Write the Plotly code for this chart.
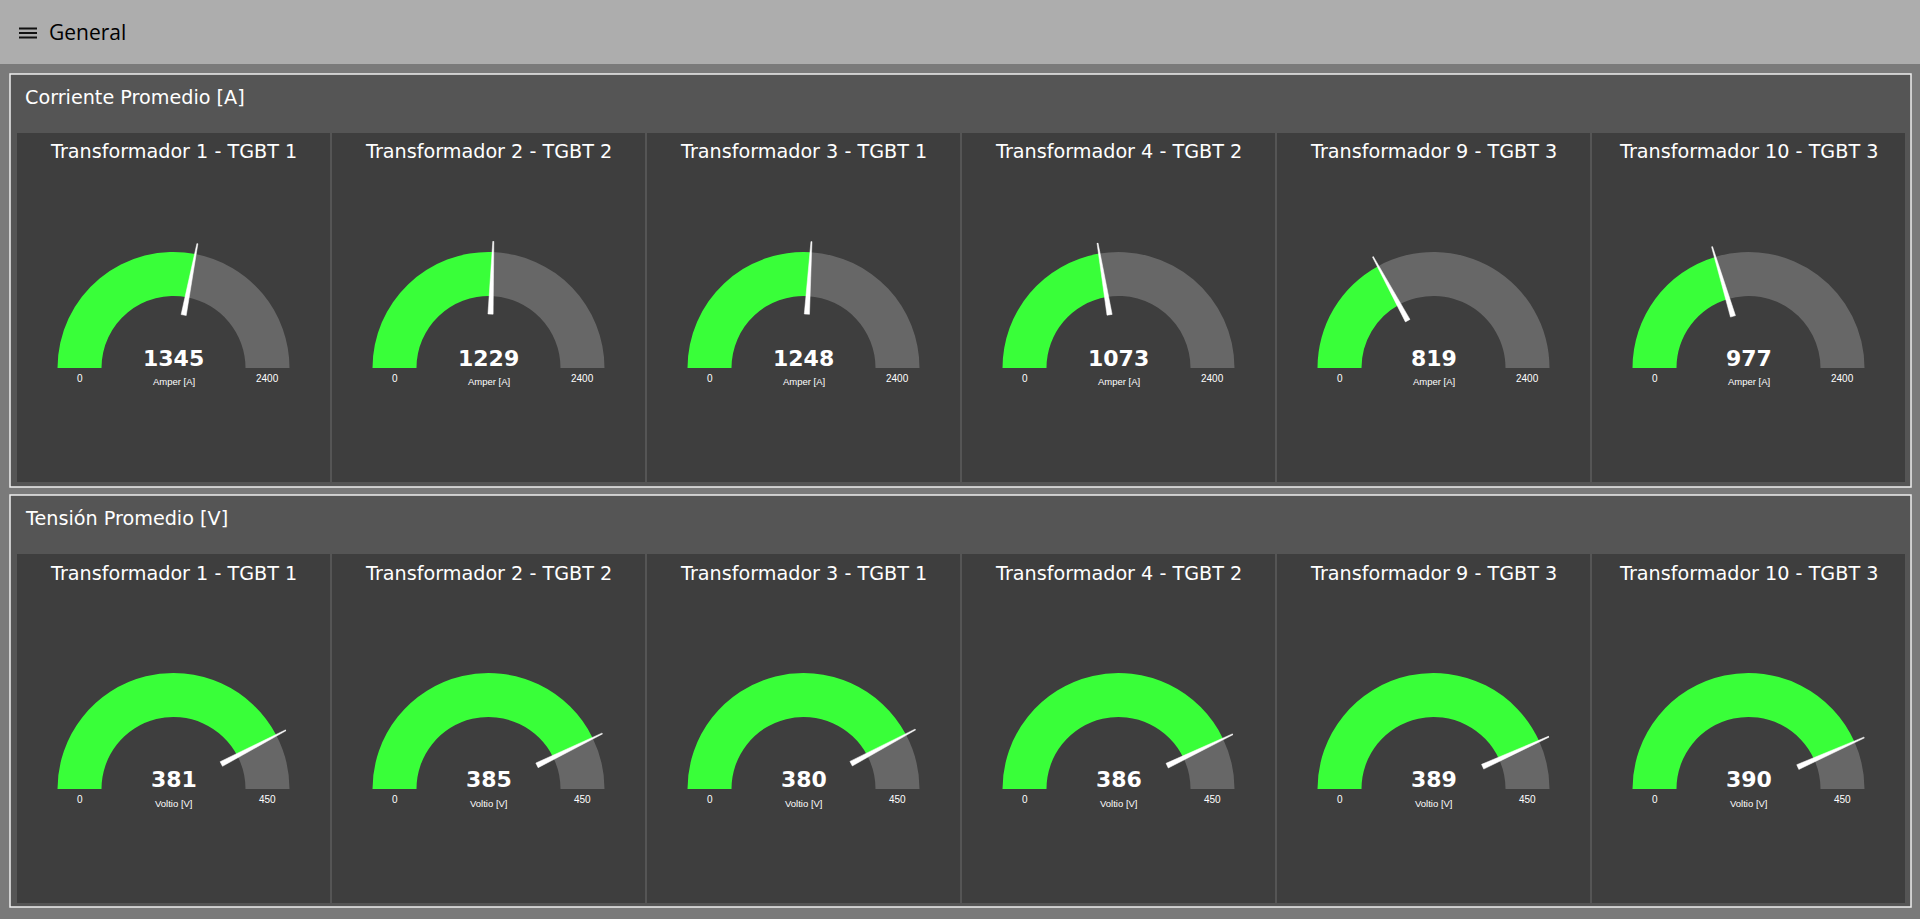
import plotly.graph_objects as go

# ---------------- data ----------------
group_titles = ["Corriente Promedio [A]", "Tensión Promedio [V]"]
gauge_titles = [
    "Transformador 1 - TGBT 1",
    "Transformador 2 - TGBT 2",
    "Transformador 3 - TGBT 1",
    "Transformador 4 - TGBT 2",
    "Transformador 9 - TGBT 3",
    "Transformador 10 - TGBT 3",
]
corriente_values = [1345, 1229, 1248, 1073, 819, 977]
tension_values = [381, 385, 380, 386, 389, 390]
gauge_min = [0, 0]
gauge_max = [2400, 450]
gauge_units = ["Amper [A]", "Voltio [V]"]
page_title = "General"

# ---------------- style / layout ----------------
W, H = 1920, 919
HEADER_H = 64
PAGE_BG = "#7a7a7a"
HEADER_BG = "#adadad"
GROUP_BG = "#555555"
GROUP_BORDER = "#eeeeee"
CARD_BG = "#3e3e3e"
ARC_GRAY = "#676767"
ARC_GREEN = "#39ff39"
NEEDLE = "#ffffff"
TEXT = "#ffffff"

GROUP_X0, GROUP_X1 = 10, 1911
GROUP_TOPS = [74, 495]
GROUP_BOTTOMS = [487, 907]
CARD_TOPS = [133, 554]
CARD_H = 349
CARD_LEFT0 = 17
CARD_STEP = 315
CARD_W = 313

R_OUT, R_IN = 116, 72
R_NEEDLE_IN, R_NEEDLE_OUT = 54, 127
NEEDLE_HALF_BASE, NEEDLE_HALF_TIP = 2.6, 0.5  # px
GAUGE_DY = 235  # gauge centre below card top

TITLE_FONT = dict(family="DejaVu Sans, Verdana, sans-serif", size=19.2, color=TEXT)
VALUE_FONT = dict(family="DejaVu Sans, Verdana, sans-serif", size=22, color=TEXT, weight="bold")
SMALL_FONT = dict(family="Liberation Sans, Arial, sans-serif", size=10, color=TEXT)
UNIT_FONT = dict(family="Liberation Sans, Arial, sans-serif", size=9.5, color=TEXT)


def fx(x):
    return x / W


def fy(y):
    return 1 - y / H


shapes = []
annotations = []


def rect(x0, y0, x1, y1, fill, line_color=None, line_width=0):
    shapes.append(dict(type="rect", xref="paper", yref="paper",
                       x0=fx(x0), x1=fx(x1), y0=fy(y1), y1=fy(y0),
                       fillcolor=fill, layer="below",
                       line=dict(color=line_color or fill, width=line_width)))


def text(x, y, s, font, xanchor="center"):
    annotations.append(dict(xref="paper", yref="paper", x=fx(x), y=fy(y), text=s,
                            showarrow=False, font=font, xanchor=xanchor, yanchor="middle"))


# header bar
rect(0, 0, W, HEADER_H, HEADER_BG)
for yy in (28.5, 33, 37.5):
    shapes.append(dict(type="line", xref="paper", yref="paper",
                       x0=fx(19), x1=fx(37), y0=fy(yy), y1=fy(yy),
                       line=dict(color="#111111", width=2)))
text(47, 32, page_title, dict(family="Open Sans, sans-serif", size=21, color="#000000"), xanchor="left")

fig = go.Figure()
group_values = [corriente_values, tension_values]

k = 0
for g in range(2):
    rect(GROUP_X0, GROUP_TOPS[g], GROUP_X1, GROUP_BOTTOMS[g], GROUP_BG, GROUP_BORDER, 1.5)
    text(23, GROUP_TOPS[g] + 23, group_titles[g], TITLE_FONT, xanchor="left")
    vmin, vmax = gauge_min[g], gauge_max[g]
    for i, (title, val) in enumerate(zip(gauge_titles, group_values[g])):
        k += 1
        left = CARD_LEFT0 + CARD_STEP * i
        top = CARD_TOPS[g]
        rect(left, top, left + CARD_W, top + CARD_H, CARD_BG)
        text(left + CARD_W / 2, top + 19, title, TITLE_FONT)

        cx = left + CARD_W / 2
        cy = top + GAUGE_DY
        name = "polar" if k == 1 else f"polar{k}"
        fig.update_layout(**{name: dict(
            domain=dict(x=[fx(cx - R_NEEDLE_OUT), fx(cx + R_NEEDLE_OUT)],
                        y=[fy(cy), fy(cy - R_NEEDLE_OUT)]),
            sector=[0, 180], hole=0, bgcolor="rgba(0,0,0,0)",
            radialaxis=dict(visible=False, range=[0, R_NEEDLE_OUT]),
            angularaxis=dict(visible=False, direction="counterclockwise", rotation=0),
        )})

        ang = 180 - 180 * (val - vmin) / (vmax - vmin)
        # grey remainder
        fig.add_trace(go.Barpolar(r=[R_OUT - R_IN], base=[R_IN], theta=[ang / 2], width=[ang],
                                  marker=dict(color=ARC_GRAY, line=dict(width=0)),
                                  subplot=name, hoverinfo="skip", showlegend=False))
        # green value arc
        fig.add_trace(go.Barpolar(r=[R_OUT - R_IN], base=[R_IN], theta=[(180 + ang) / 2], width=[180 - ang],
                                  marker=dict(color=ARC_GREEN, line=dict(width=0)),
                                  subplot=name, hoverinfo="skip", showlegend=False))
        # needle
        db = NEEDLE_HALF_BASE / R_NEEDLE_IN * 57.2958
        dt = NEEDLE_HALF_TIP / R_NEEDLE_OUT * 57.2958
        fig.add_trace(go.Scatterpolar(
            r=[R_NEEDLE_IN, R_NEEDLE_OUT, R_NEEDLE_OUT, R_NEEDLE_IN, R_NEEDLE_IN],
            theta=[ang + db, ang + dt, ang - dt, ang - db, ang + db],
            mode="lines", fill="toself", fillcolor=NEEDLE,
            line=dict(color=NEEDLE, width=0.5),
            subplot=name, hoverinfo="skip", showlegend=False))

        text(cx, cy - 10, str(val), VALUE_FONT)
        text(cx, cy + 14, gauge_units[g], UNIT_FONT)
        text(cx - (R_OUT + R_IN) / 2, cy + 10, str(vmin), SMALL_FONT)
        text(cx + (R_OUT + R_IN) / 2, cy + 10, str(vmax), SMALL_FONT)

fig.update_layout(
    width=W, height=H, autosize=False,
    margin=dict(l=0, r=0, t=0, b=0),
    paper_bgcolor=PAGE_BG, plot_bgcolor=PAGE_BG,
    shapes=shapes, annotations=annotations,
    showlegend=False,
)

fig.write_html("out.html", config={"displayModeBar": False},
               post_script="document.body.style.margin='0';document.body.style.overflow='hidden';")
